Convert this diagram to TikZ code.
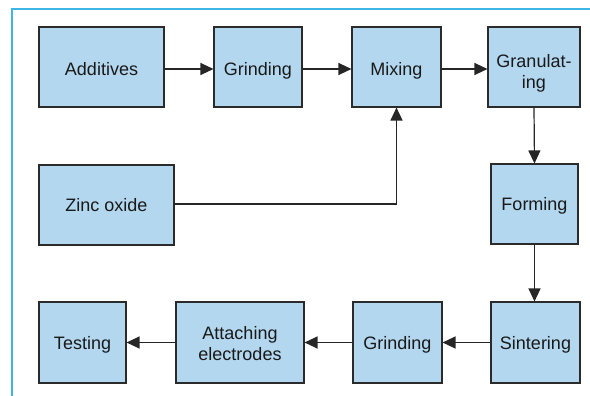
\documentclass[tikz,border=0pt]{standalone}
\usepackage{fontspec}
\setmainfont{Liberation Sans}
\usetikzlibrary{arrows.meta}
\definecolor{boxfill}{HTML}{B3D7EF}
\definecolor{boxline}{HTML}{2B2B2B}
\definecolor{framecol}{HTML}{3DB5E6}
\begin{document}
\begin{tikzpicture}[x=1pt,y=-1pt,
  stage/.style={draw=boxline, line width=1.1pt, fill=boxfill, minimum height=80pt,
    inner sep=2pt, align=center, font=\fontsize{18}{21}\selectfont, text=black!90},
  oneline/.style={text height=13pt, text depth=0pt},
  lowline/.style={text height=17pt, text depth=0pt},
  flow/.style={line width=1.2pt, draw=black!85, -{Triangle[length=13pt,width=12pt]}}]
\useasboundingbox (0,0) rectangle (590,396);
% outer frame (top and left edges only)
\draw[framecol, line width=2pt] (11.5,396) -- (11.5,9.5) -- (590,9.5);
% top row
\node[stage, lowline, minimum width=125pt] (add)  at (101.5,67) {Additives};
\node[stage, lowline, minimum width=88pt]  (gr1)  at (258,67)   {Grinding};
\node[stage, lowline, minimum width=89pt]  (mix)  at (396.5,67) {Mixing};
\node[stage, text height=43pt, text depth=0pt, minimum width=92pt] (gran) at (534,67) {Granulat-\\ing};
% middle row
\node[stage, oneline, minimum width=135pt] (zinc) at (106.5,205) {Zinc oxide};
\node[stage, oneline, minimum width=87pt]  (form) at (534.5,204) {Forming};
% bottom row
\node[stage, oneline, minimum width=87pt, minimum height=81pt]  (test) at (82.5,342.5)  {Testing};
\node[stage, text height=36pt, text depth=0pt, minimum width=128pt, minimum height=81pt] (att) at (240,342.5) {Attaching\\electrodes};
\node[stage, oneline, minimum width=89pt, minimum height=81pt]  (gr2)  at (397.5,342.5) {Grinding};
\node[stage, oneline, minimum width=89pt, minimum height=81pt]  (sint) at (535.5,342.5) {Sintering};
% connectors (top row runs slightly below the box centres)
\draw[flow] ([yshift=-2pt]add.east) -- ([yshift=-2pt]gr1.west);
\draw[flow] ([yshift=-2pt]gr1.east) -- ([yshift=-2pt]mix.west);
\draw[flow] ([yshift=-2pt]mix.east) -- ([yshift=-2pt]gran.west);
\draw[flow] ([yshift=1pt]zinc.east) -| (mix.south);
\draw[flow] (gran.south) -- (form.north);
\draw[flow] (form.south) -- (form.south |- sint.north);
\draw[flow] (sint) -- (gr2);
\draw[flow] (gr2) -- (att);
\draw[flow] (att) -- (test);
\end{tikzpicture}
\end{document}
